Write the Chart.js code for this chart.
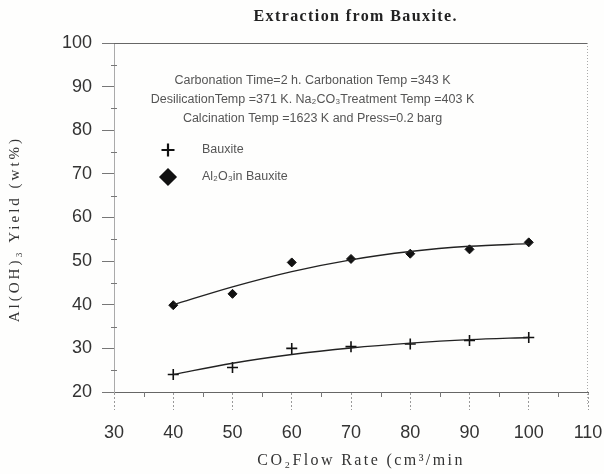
<!DOCTYPE html>
<html>
<head>
<meta charset="utf-8">
<title>Extraction from Bauxite</title>
<script src="https://cdn.jsdelivr.net/npm/chart.js@4/dist/chart.umd.min.js"></script>
<style>
  html, body { margin: 0; padding: 0; background: #fefefd; }
  #wrap { width: 604px; height: 474px; }
</style>
</head>
<body>
<div id="wrap"><canvas id="chart" width="604" height="474"></canvas></div>
<script>
// CO2 flow rate (cm3/min)
const flowRates = [40, 50, 60, 70, 80, 90, 100]
// measured yields (wt%)
const bauxiteYield = [24.0, 25.6, 30.0, 30.4, 31.0, 31.8, 32.5]
const aluminaYield = [39.9, 42.5, 49.7, 50.5, 51.7, 52.7, 54.3]
// fitted trend curves
const bauxiteFit = [24.0, 26.6, 28.6, 30.1, 31.2, 32.0, 32.5]
const aluminaFit = [40.0, 44.1, 47.6, 50.3, 52.2, 53.4, 54.0]

const xTicks = [30, 40, 50, 60, 70, 80, 90, 100, 110]
const yTicks = [20, 30, 40, 50, 60, 70, 80, 90, 100]

const notes = [
    'Carbonation Time=2 h. Carbonation Temp =343 K',
    'DesilicationTemp =371 K. Na\u2082CO\u2083Treatment Temp =403 K',
    'Calcination Temp =1623 K and Press=0.2 barg'
]
const legendItems = [
    {label: 'Bauxite', style: 'cross', radius: 6.5},
    {label: 'Al\u2082O\u2083in Bauxite', style: 'rectRot', radius: 7.5}
]

const pts = (ys) => flowRates.map((x, i) => ({x: x, y: ys[i]}))

// text drawn with extra tracking, like the scanned original
function spaced(ctx, text, x, y, spacing) {
    ctx.letterSpacing = spacing + 'px'
    ctx.fillText(text, x + spacing / 2, y)
    ctx.letterSpacing = '0px'
}

// frame, minor ticks, titles, notes and legend
const decor = {
    id: 'decor',
    afterDraw(chart) {
        const ctx = chart.ctx
        const a = chart.chartArea
        const xs = chart.scales.x
        const ys = chart.scales.y
        ctx.save()

        // top and right frame
        ctx.strokeStyle = '#666'
        ctx.lineWidth = 1
        ctx.beginPath()
        ctx.moveTo(a.left, a.top + 0.5)
        ctx.lineTo(a.right, a.top + 0.5)
        ctx.stroke()
        ctx.strokeStyle = '#aaa'
        ctx.setLineDash([1, 2])
        ctx.beginPath()
        ctx.moveTo(a.right - 0.5, a.top)
        ctx.lineTo(a.right - 0.5, a.bottom + 14)
        ctx.stroke()
        ctx.setLineDash([])

        // minor ticks
        ctx.strokeStyle = '#777'
        for (let v = 25; v < 100; v += 10) {
            const py = Math.round(ys.getPixelForValue(v)) + 0.5
            ctx.beginPath()
            ctx.moveTo(a.left - 3, py)
            ctx.lineTo(a.left + 3, py)
            ctx.stroke()
        }
        for (let v = 35; v < 110; v += 10) {
            const px = Math.round(xs.getPixelForValue(v)) + 0.5
            ctx.beginPath()
            ctx.moveTo(px, a.bottom)
            ctx.lineTo(px, a.bottom + 5)
            ctx.stroke()
        }

        ctx.textAlign = 'center'
        ctx.textBaseline = 'middle'

        // chart title
        ctx.fillStyle = '#222'
        ctx.font = 'bold 16px "Liberation Serif", serif'
        spaced(ctx, 'Extraction from Bauxite.', (a.left + a.right) / 2 + 4, 17, 1.4)

        // axis titles
        ctx.font = '16px "Liberation Serif", serif'
        ctx.fillStyle = '#333'
        spaced(ctx, 'CO\u2082Flow Rate (cm\u00b3/min', xs.getPixelForValue(71.5), 461, 2.4)
        ctx.save()
        ctx.translate(15, ys.getPixelForValue(57))
        ctx.rotate(-Math.PI / 2)
        ctx.font = '15px "Liberation Serif", serif'
        spaced(ctx, 'Al(OH)\u2083 Yield (wt%)', 0, 0, 3)
        ctx.restore()

        // experimental conditions
        ctx.fillStyle = '#555'
        ctx.font = '12.5px "Liberation Sans", Arial, sans-serif'
        const nx = xs.getPixelForValue(63.5)
        notes.forEach((t, i) => ctx.fillText(t, nx, 81 + i * 19))

        // legend
        ctx.textAlign = 'left'
        legendItems.forEach((it, i) => {
            const ly = 150 + i * 27
            const lx = 168
            ctx.fillStyle = '#111'
            ctx.strokeStyle = '#111'
            ctx.lineWidth = 2.2
            Chart.helpers.drawPoint(ctx, {pointStyle: it.style, radius: it.radius, rotation: 0, borderWidth: 2.2}, lx, ly)
            ctx.fillStyle = '#555'
            ctx.fillText(it.label, lx + 34, ly)
        })
        ctx.restore()
    }
}

new Chart(document.getElementById('chart'), {
    type: 'scatter',
    data: {
        datasets: [
            {
                label: 'Bauxite fit',
                data: pts(bauxiteFit),
                showLine: true,
                borderColor: '#222',
                borderWidth: 1.4,
                pointRadius: 0,
                cubicInterpolationMode: 'monotone'
            },
            {
                label: 'Al2O3 fit',
                data: pts(aluminaFit),
                showLine: true,
                borderColor: '#222',
                borderWidth: 1.4,
                pointRadius: 0,
                cubicInterpolationMode: 'monotone'
            },
            {
                label: 'Bauxite',
                data: pts(bauxiteYield),
                pointStyle: 'cross',
                pointRadius: 5.5,
                borderColor: '#111',
                borderWidth: 1.6,
                showLine: false
            },
            {
                label: 'Al2O3in Bauxite',
                data: pts(aluminaYield),
                pointStyle: 'rectRot',
                pointRadius: 4.5,
                backgroundColor: '#111',
                borderColor: '#111',
                borderWidth: 1,
                showLine: false
            }
        ]
    },
    options: {
        responsive: false,
        animation: false,
        layout: {padding: {top: 43, right: 16, left: 0, bottom: 0}},
        plugins: {
            legend: {display: false},
            tooltip: {enabled: false}
        },
        scales: {
            x: {
                type: 'linear',
                min: 30,
                max: 110,
                afterBuildTicks: (s) => { s.ticks = xTicks.map(v => ({value: v})) },
                afterFit: (s) => {
                    s.height = 82
                    s.paddingLeft = 0
                    s.paddingRight = 0
                },
                grid: {
                    drawOnChartArea: false,
                    drawTicks: true,
                    tickLength: 18,
                    tickColor: '#999',
                    tickBorderDash: [2, 2]
                },
                border: {color: '#666', width: 1},
                ticks: {
                    color: '#333',
                    padding: 12,
                    maxRotation: 0,
                    font: {family: '"Liberation Sans", Arial, sans-serif', size: 18}
                }
            },
            y: {
                min: 20,
                max: 100,
                afterBuildTicks: (s) => { s.ticks = yTicks.map(v => ({value: v})) },
                afterFit: (s) => {
                    s.width = 114
                    s.paddingTop = 0
                    s.paddingBottom = 0
                },
                grid: {
                    drawOnChartArea: false,
                    drawTicks: true,
                    tickLength: 12,
                    tickColor: '#777'
                },
                border: {color: '#aaa', width: 1, dash: [1, 2]},
                ticks: {
                    color: '#333',
                    padding: 10,
                    font: {family: '"Liberation Sans", Arial, sans-serif', size: 18}
                }
            }
        }
    },
    plugins: [decor]
})
</script>
</body>
</html>
